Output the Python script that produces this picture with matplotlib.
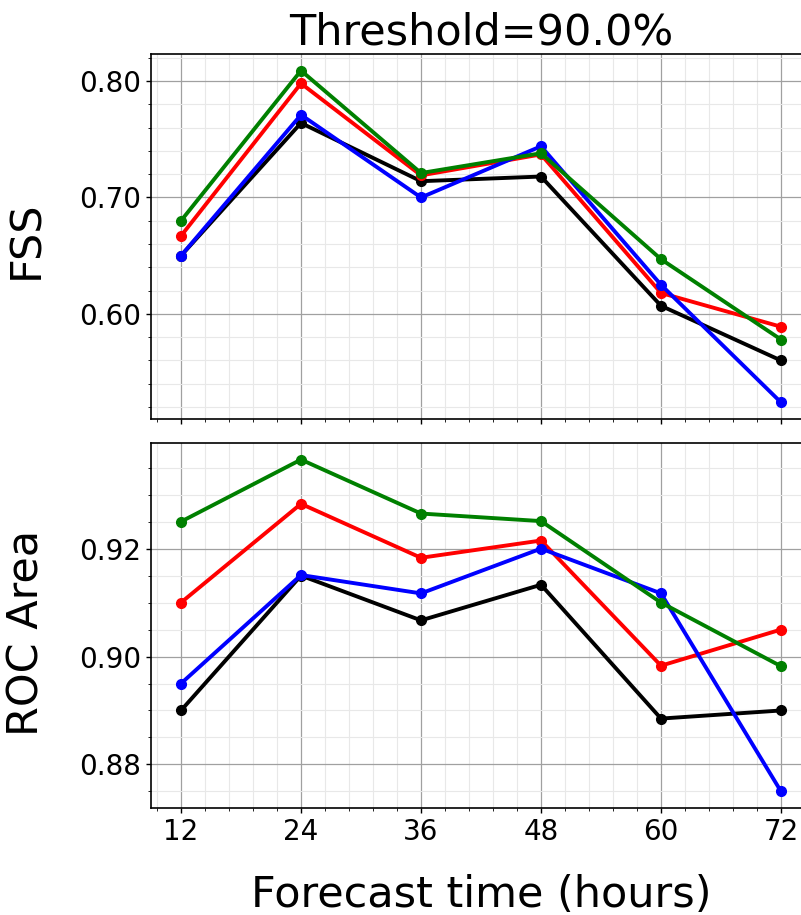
import numpy as np
import matplotlib
matplotlib.use('Agg')
from matplotlib import pyplot as plt
from matplotlib.ticker import AutoMinorLocator, FormatStrFormatter

hours = [12, 24, 36, 48, 60, 72]

# FSS (top panel)
fss_black = [0.650, 0.764, 0.714, 0.718, 0.607, 0.560]
fss_red = [0.667, 0.798, 0.719, 0.737, 0.618, 0.589]
fss_blue = [0.650, 0.771, 0.700, 0.744, 0.625, 0.524]
fss_green = [0.680, 0.809, 0.721, 0.738, 0.647, 0.578]

# ROC area (bottom panel)
roc_black = [0.890, 0.915, 0.9067, 0.9133, 0.8885, 0.890]
roc_red = [0.910, 0.9283, 0.9183, 0.9215, 0.8983, 0.905]
roc_blue = [0.895, 0.9151, 0.9117, 0.920, 0.9117, 0.875]
roc_green = [0.925, 0.9365, 0.9265, 0.9251, 0.910, 0.8982]

colors = ['black', 'red', 'blue', 'green']

W, H = 801, 915
fig = plt.figure(figsize=(W / 100, H / 100), dpi=100)
ax1 = fig.add_axes([151 / W, 1 - 419 / H, 660 / W, (419 - 54) / H])
ax2 = fig.add_axes([151 / W, 1 - 808 / H, 660 / W, (808 - 443) / H], sharex=ax1)

for ax, series in [(ax1, [fss_black, fss_red, fss_blue, fss_green]),
                   (ax2, [roc_black, roc_red, roc_blue, roc_green])]:
    for vals, c in zip(series, colors):
        ax.plot(hours, vals, color=c, lw=2.8, marker='o', ms=7)
    ax.xaxis.set_minor_locator(AutoMinorLocator(5))
    ax.yaxis.set_minor_locator(AutoMinorLocator())
    ax.grid(which='major', color='#a0a0a0', lw=0.9)
    ax.grid(which='minor', color='#e8e8e8', lw=0.8)
    ax.set_axisbelow(True)
    ax.tick_params(labelsize=20, width=1.0)
    ax.yaxis.set_major_formatter(FormatStrFormatter('%.2f'))
    for s in ax.spines.values():
        s.set_linewidth(1.2)
    # the figure edge cuts the axes off before the right spine
    ax.spines['right'].set_visible(False)

ax1.set_xticks(hours)
ax1.set_xlim(9, 75)
ax1.tick_params(labelbottom=False)
ax1.set_yticks([0.60, 0.70, 0.80])
ax2.set_yticks([0.88, 0.90, 0.92])

ax1.set_title('Threshold=90.0%', fontsize=31, pad=6)
ax1.set_ylabel('FSS', fontsize=31)
ax2.set_ylabel('ROC Area', fontsize=31)
ax1.yaxis.set_label_coords(-0.157, 0.49)
ax2.yaxis.set_label_coords(-0.157, 0.48)
ax2.set_xlabel('Forecast time (hours)', fontsize=31, labelpad=20)

plt.savefig('out.png', dpi=100)
